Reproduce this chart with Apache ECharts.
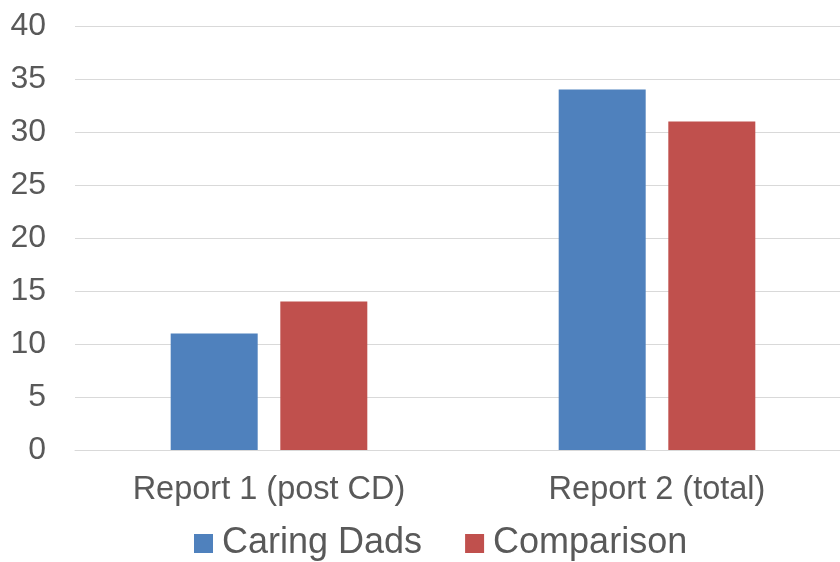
<!DOCTYPE html>
<html><head><meta charset="utf-8">
<script src="https://cdn.jsdelivr.net/npm/echarts@6/dist/echarts.min.js"></script>
<style>html,body{margin:0;padding:0;background:#fff;overflow:hidden}#c{width:851px;height:562px}</style>
</head><body><div id="c"></div>
<script>
const categories = ['Report 1 (post CD)', 'Report 2 (total)'];
const caringDads = [11, 34];
const comparison = [14, 31];
const yTicks = { min: 0, max: 40, interval: 5 };

const font = '"Liberation Sans", Arial, sans-serif';
const chart = echarts.init(document.getElementById('c'), null, { renderer: 'canvas' });
chart.setOption({
  animation: false,
  grid: { left: 75, top: 26, right: 0, height: 424, containLabel: false },
  legend: {
    data: ['Caring Dads', 'Comparison'],
    left: 194, top: 525.5, padding: 0,
    icon: 'rect', itemWidth: 19, itemHeight: 19, itemGap: 43,
    textStyle: { fontSize: 36, color: '#595959', fontFamily: font, padding: [0, 0, 0, 4] }
  },
  xAxis: {
    type: 'category', data: categories,
    axisLine: { lineStyle: { color: '#d9d9d9', width: 1 } },
    axisTick: { show: false },
    axisLabel: { fontSize: 32.5, color: '#595959', fontFamily: font, margin: 24 }
  },
  yAxis: {
    type: 'value', min: yTicks.min, max: yTicks.max, interval: yTicks.interval,
    axisLine: { show: false }, axisTick: { show: false },
    splitLine: { lineStyle: { color: '#d9d9d9', width: 1 } },
    axisLabel: { fontSize: 32, color: '#595959', fontFamily: font, margin: 29 }
  },
  series: [
    { name: 'Caring Dads', type: 'bar', data: caringDads, barWidth: 87, barGap: '26%', itemStyle: { color: '#4F81BD' } },
    { name: 'Comparison', type: 'bar', data: comparison, barWidth: 87, barGap: '26%', itemStyle: { color: '#C0504D' } }
  ]
});
</script></body></html>
